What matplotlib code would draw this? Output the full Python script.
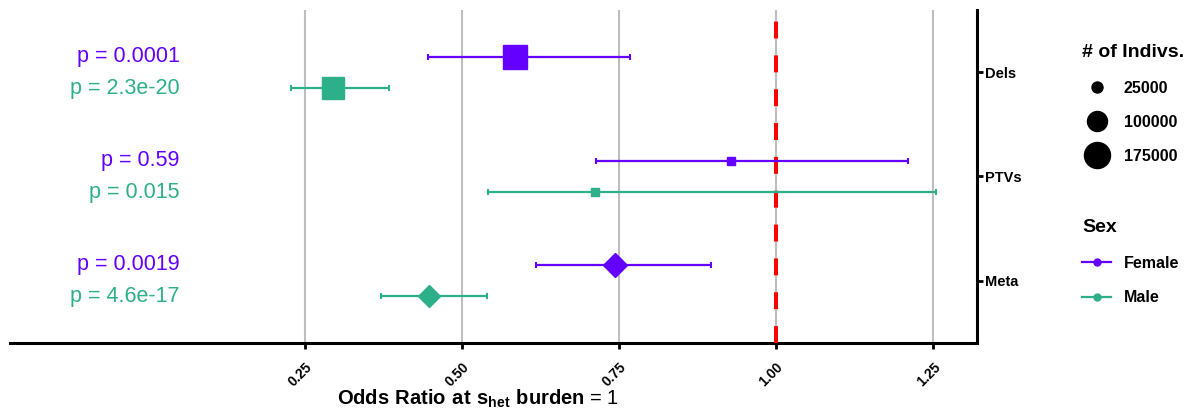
import numpy as np
import matplotlib
matplotlib.use("Agg")
import matplotlib.pyplot as plt
from matplotlib.lines import Line2D

plt.rcParams['font.family'] = ['Liberation Sans', 'DejaVu Sans']
plt.rcParams['mathtext.fontset'] = 'custom'
plt.rcParams['mathtext.rm'] = 'Liberation Sans'
plt.rcParams['mathtext.bf'] = 'Liberation Sans:bold'

# Data (bottom to top on the y axis)
categories = ['Meta', 'PTVs', 'Dels']
cat_shapes = ['D', 's', 's']
x_ticks = [0.25, 0.50, 0.75, 1.00, 1.25]

odds_female = [0.744, 0.929, 0.585]
lo_female = [0.617, 0.714, 0.446]
hi_female = [0.896, 1.210, 0.767]
n_female = [154000, 20000, 188000]
p_female = ['p = 0.0019', 'p = 0.59', 'p = 0.0001']

odds_male = [0.448, 0.712, 0.295]
lo_male = [0.371, 0.542, 0.228]
hi_male = [0.540, 1.255, 0.384]
n_male = [140000, 11000, 158000]
p_male = ['p = 4.6e-17', 'p = 0.015', 'p = 2.3e-20']

legend_sizes = [25000, 100000, 175000]

colors = {'Female': '#6300FF', 'Male': '#2DB08A'}
dodge = {'Female': 0.15, 'Male': -0.15}


def size_px(n):
    # area-linear size scale (circle diameter in pixels)
    return np.sqrt(121 + (n - 25000) * 279 / 75000)


def marker_pts(n, shape):
    d = size_px(n)
    if shape == 's':
        return d * 0.886 * 0.72
    if shape == 'D':
        return d * 0.94 * 0.72 / 1.414
    return d * 0.72


fig = plt.figure(figsize=(11.93, 4.15), dpi=100)
ax = fig.add_axes([10 / 1193, 1 - 343 / 415, 967 / 1193, 333 / 415])

y_base = np.arange(len(categories)) + 1

series = {
    'Female': (odds_female, lo_female, hi_female, n_female, p_female),
    'Male': (odds_male, lo_male, hi_male, n_male, p_male),
}

for sex, (odds, lo, hi, n, pv) in series.items():
    odds = np.array(odds)
    y = y_base + dodge[sex]
    xerr = [odds - np.array(lo), np.array(hi) - odds]
    ax.errorbar(odds, y, xerr=xerr, fmt='none', ecolor=colors[sex],
                elinewidth=1.6, capsize=2.2, capthick=1.5, zorder=4)
    for i in range(len(categories)):
        ms = marker_pts(n[i], cat_shapes[i])
        ax.plot(odds[i], y[i], marker=cat_shapes[i], markersize=ms,
                color=colors[sex], ls='', zorder=5)
        ax.text(0.05, y[i], pv[i], ha='right', va='center',
                color=colors[sex], fontsize=15.5)

# Reference line at OR = 1
ax.axvline(1.0, color='red', lw=2.9, dashes=(4.2, 4.2), zorder=3)

ax.set_xlim(-0.22, 1.32)
ax.set_ylim(0.4, 3.6)
ax.set_xticks(x_ticks)
ax.set_xticklabels([f'{v:.2f}' for v in x_ticks], rotation=45, ha='right',
                   va='top', rotation_mode='anchor', fontsize=10, fontweight='bold')
ax.grid(axis='x', color='#BEBEBE', lw=1.5, zorder=1)
ax.set_axisbelow(True)

ax.yaxis.tick_right()
ax.set_yticks(y_base)
ax.set_yticklabels(categories, fontsize=10.5, fontweight='bold')
ax.tick_params(axis='y', length=4, width=2, pad=2)
ax.tick_params(axis='x', length=4, width=2, pad=8)

for side in ['top', 'left']:
    ax.spines[side].set_visible(False)
ax.spines['bottom'].set_linewidth(2.2)
ax.spines['right'].set_linewidth(2.2)

ax.set_xlabel(r'$\bf{Odds\ Ratio\ at\ s_{het}\ burden}$ = 1', fontsize=14.5)
ax.xaxis.set_label_coords((478 - 10) / 967, -0.135)

# Legends
size_handles = [Line2D([], [], marker='o', ls='', color='black',
                       markersize=size_px(s) * 0.72) for s in legend_sizes]
leg1 = fig.legend(size_handles, [str(s) for s in legend_sizes],
                  title='# of Indivs.', loc='upper left',
                  bbox_to_anchor=(1068 / 1193, 1 - 30 / 415), frameon=False,
                  prop={'weight': 'bold', 'size': 11.5},
                  title_fontproperties={'weight': 'bold', 'size': 14},
                  alignment='left', labelspacing=1.2, handletextpad=0.8,
                  handlelength=1.8)

sex_handles = [Line2D([], [], marker='o', color=colors[s], lw=1.6,
                      markersize=5) for s in ['Female', 'Male']]
leg2 = fig.legend(sex_handles, ['Female', 'Male'], title='Sex', loc='upper left',
                  bbox_to_anchor=(1068 / 1193, 1 - 205 / 415), frameon=False,
                  prop={'weight': 'bold', 'size': 11.5},
                  title_fontproperties={'weight': 'bold', 'size': 14},
                  alignment='left', labelspacing=1.22, handletextpad=0.8,
                  handlelength=1.8)

fig.savefig('out.png', dpi=100)
